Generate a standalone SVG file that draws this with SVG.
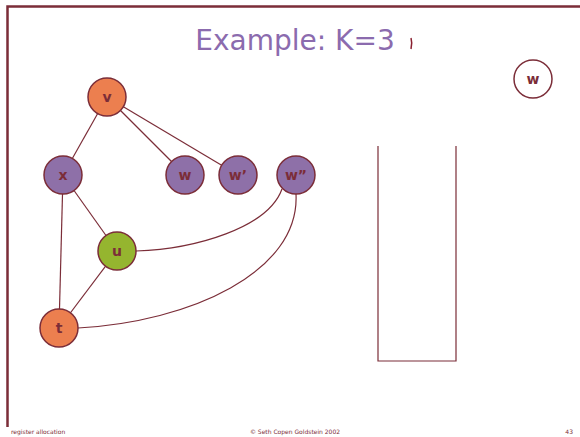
<svg xmlns="http://www.w3.org/2000/svg" width="580" height="437" viewBox="0 0 580 437">
  <style>
    .frame { stroke: #7B2D38; stroke-width: 2.5; fill: none; }
    .edge { stroke: #7B2D38; stroke-width: 1.2; fill: none; }
    .node circle { stroke: #7B2D38; stroke-width: 1.5; }
    .orange { fill: #EC7F4F; }
    .purple { fill: #8E70A8; }
    .green { fill: #95B52F; }
    .hollow { fill: #FFFFFF; }
    .lbl { font-family: "DejaVu Sans", "Liberation Sans", sans-serif; font-size: 14px; font-weight: bold; fill: #7B2D38; text-anchor: middle; }
    .title { font-family: "DejaVu Sans", "Liberation Sans", sans-serif; font-size: 28px; fill: #8B6BAE; text-anchor: middle; }
    .foot { font-family: "DejaVu Sans", "Liberation Sans", sans-serif; font-size: 6px; fill: #7B2D38; }
  </style>

  <rect width="580" height="437" fill="#FFFFFF"/>

  <!-- slide frame -->
  <path class="frame" d="M7.5,427 V6.5 H580"/>

  <text class="title" x="295" y="50">Example: K=3</text>
  <path d="M411,38 Q412.5,43 411,49" stroke="#8A2030" stroke-width="1.5" fill="none"/>

  <!-- stack -->
  <path class="edge" d="M378,146 V361 H456 V146" stroke-width="1.6"/>

  <g id="connectors">
    <line class="edge" x1="107" y1="97" x2="63" y2="175"/>
    <line class="edge" x1="107" y1="97" x2="185" y2="175"/>
    <line class="edge" x1="107" y1="97" x2="238" y2="175"/>
    <line class="edge" x1="63" y1="175" x2="117" y2="251"/>
    <line class="edge" x1="63" y1="175" x2="59" y2="328"/>
    <line class="edge" x1="117" y1="251" x2="59" y2="328"/>
    <path class="edge" d="M136,251 C195,249 268,228 282,189"/>
    <path class="edge" d="M78,328 C190,322 300,272 296,194"/>
  </g>

  <g id="node-v" class="node"><circle class="orange" cx="107" cy="97" r="19"/><text class="lbl" x="107" y="102">v</text></g>
  <g id="node-x" class="node"><circle class="purple" cx="63" cy="175" r="19"/><text class="lbl" x="63" y="180">x</text></g>
  <g id="node-w" class="node"><circle class="purple" cx="185" cy="175" r="19"/><text class="lbl" x="185" y="180">w</text></g>
  <g id="node-w1" class="node"><circle class="purple" cx="238" cy="175" r="19"/><text class="lbl" x="238" y="180">w’</text></g>
  <g id="node-w2" class="node"><circle class="purple" cx="296" cy="175" r="19"/><text class="lbl" x="296" y="180">w”</text></g>
  <g id="node-u" class="node"><circle class="green" cx="117" cy="251" r="19"/><text class="lbl" x="117" y="256">u</text></g>
  <g id="node-t" class="node"><circle class="orange" cx="59" cy="328" r="19"/><text class="lbl" x="59" y="333">t</text></g>
  <g id="node-w-removed" class="node"><circle class="hollow" cx="533" cy="79" r="19"/><text class="lbl" x="533" y="84">w</text></g>

  <text class="foot" x="11" y="434">register allocation</text>
  <text class="foot" x="295" y="434" text-anchor="middle">© Seth Copen Goldstein 2002</text>
  <text class="foot" x="573" y="434" text-anchor="end">43</text>
</svg>
